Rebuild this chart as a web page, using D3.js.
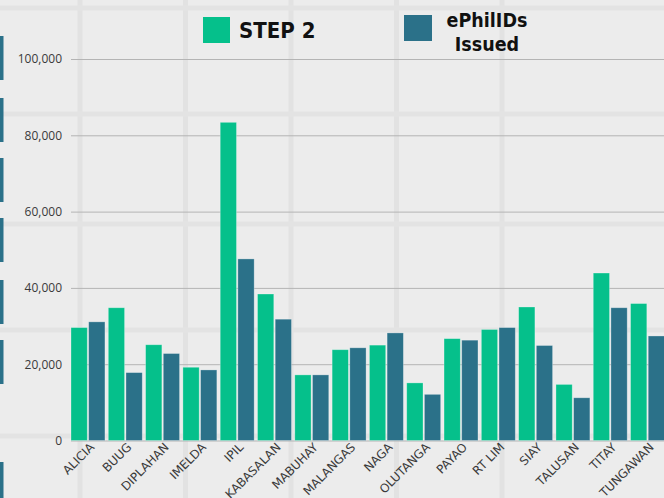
<!DOCTYPE html>
<html>
<head>
<meta charset="utf-8">
<script src="https://cdn.jsdelivr.net/npm/d3@7"></script>
<style>
body{margin:0;background:#ececec;overflow:hidden}
.tick text{font-family:"Open Sans",sans-serif}
.legend{font-family:"DejaVu Sans Condensed","DejaVu Sans",sans-serif;font-stretch:condensed;font-weight:bold;fill:#111}
</style>
</head>
<body>
<svg id="chart" width="664" height="498"></svg>
<script>
var towns = ["ALICIA","BUUG","DIPLAHAN","IMELDA","IPIL","KABASALAN","MABUHAY","MALANGAS","NAGA","OLUTANGA","PAYAO","RT LIM","SIAY","TALUSAN","TITAY","TUNGAWAN"]
var step2 = [29600,34800,25100,19200,83400,38400,17200,23800,25000,15100,26700,29100,35000,14700,43900,35900]
var issued = [31100,17800,22800,18500,47600,31800,17200,24300,28200,12100,26300,29600,24900,11200,34800,27400]
var yTicks = [0,20000,40000,60000,80000,100000]
var seriesNames = ["STEP 2","ePhilIDs Issued"]
var colors = ["#05c08b","#2b7189"]

var svg = d3.select("#chart")
var W = 664, H = 498

// background pattern
var bg = svg.append("g")
d3.range(80,W,105.5).slice(0,5).forEach(function(x){
    bg.append("rect").attr("x",x-2.5).attr("y",0).attr("width",5).attr("height",H).attr("fill","#e2e2e2")
})
;[8,114,224,330,436].forEach(function(y){
    bg.append("rect").attr("x",0).attr("y",y-2.5).attr("width",W).attr("height",5).attr("fill","#e3e3e3")
})
// left edge markers
;[[36,80],[98,142],[158,202],[218,262],[280,324],[340,384],[462,506]].forEach(function(m){
    bg.append("rect").attr("x",0).attr("y",m[0]).attr("width",3.5).attr("height",m[1]-m[0]).attr("fill",colors[1])
})

var yScale = d3.scaleLinear().domain([0,100000]).range([440.5,59])
var x0 = d3.scaleBand().domain(towns).range([71,664.5]).paddingInner(0.09).paddingOuter(0)
var x1 = d3.scaleBand().domain([0,1]).range([0,x0.bandwidth()]).paddingInner(0.08)

var yAxis = d3.axisLeft(yScale).tickValues(yTicks).tickSize(-(W-71)).tickPadding(9)
    .tickFormat(d3.format(","))
svg.append("g").attr("transform","translate(71,0)").call(yAxis)
    .call(function(g){
        g.select(".domain").remove()
        g.selectAll(".tick line").attr("stroke","#b4b4b4")
        g.selectAll(".tick text").attr("font-size",12).attr("fill","#3a3a3a")
    })

var groups = svg.selectAll(".grp").data(towns).enter().append("g")
    .attr("class","grp")
    .attr("transform",function(d){return "translate("+x0(d)+",0)"})

groups.selectAll("rect").data(function(d,i){return [step2[i],issued[i]]})
    .enter().append("rect")
    .attr("x",function(d,j){return x1(j)})
    .attr("y",function(d){return yScale(d)})
    .attr("width",x1.bandwidth())
    .attr("height",function(d){return yScale(0)-yScale(d)})
    .attr("fill",function(d,j){return colors[j]})
    .attr("stroke","rgba(255,255,255,0.35)").attr("stroke-width",0.8)

// x labels
svg.selectAll(".xlab").data(towns).enter().append("text")
    .attr("class","xlab")
    .attr("transform",function(d){return "translate("+(x0(d)+x0.bandwidth()/2+7)+",448) rotate(-45)"})
    .attr("text-anchor","end")
    .attr("font-family","DejaVu Sans, sans-serif")
    .attr("font-size",12)
    .attr("fill","#3a3a3a")
    .text(function(d){return d})

// legend
svg.append("rect").attr("x",203).attr("y",17).attr("width",27).attr("height",26).attr("fill",colors[0])
svg.append("text").attr("class","legend").attr("x",239).attr("y",38).attr("font-size",22).text(seriesNames[0])
svg.append("rect").attr("x",404).attr("y",15).attr("width",28).attr("height",26).attr("fill",colors[1])
var lt = svg.append("text").attr("class","legend").attr("text-anchor","middle").attr("font-size",19.5)
lt.append("tspan").attr("x",487).attr("y",27).text("ePhilIDs")
lt.append("tspan").attr("x",487).attr("y",51).text("Issued")
</script>
</body>
</html>
